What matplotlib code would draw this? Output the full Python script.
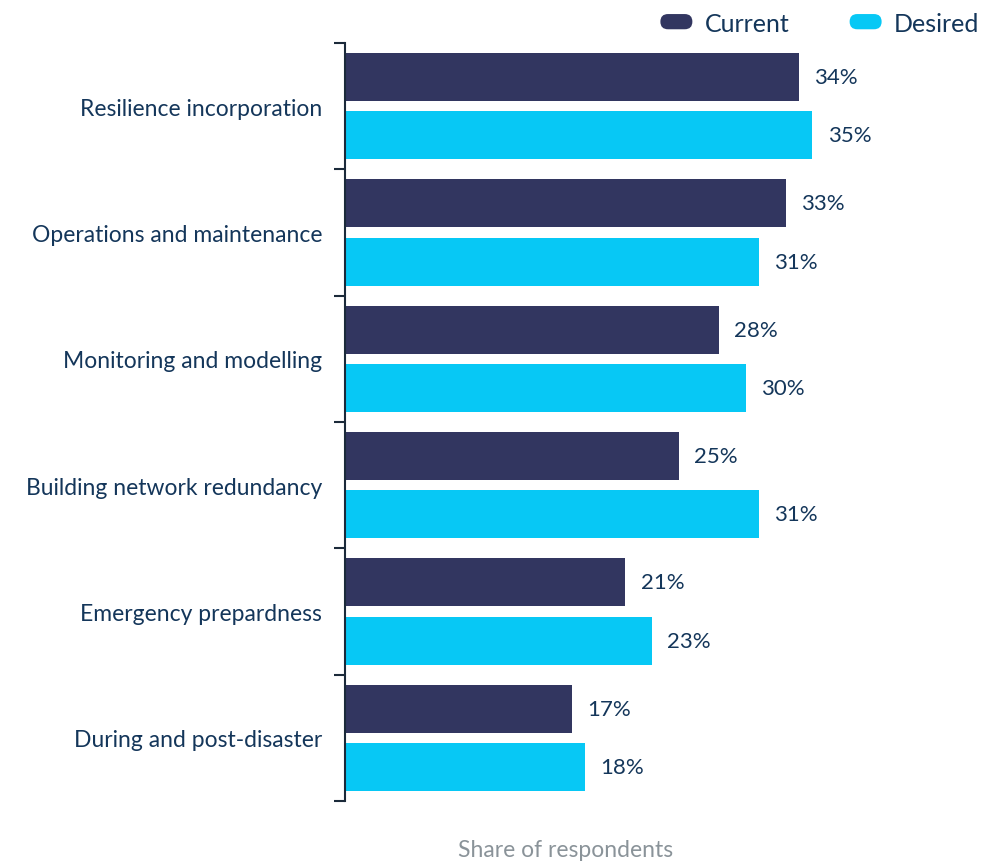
import matplotlib
matplotlib.use("Agg")
import matplotlib.pyplot as plt
from matplotlib.patches import Patch, FancyBboxPatch
from matplotlib.legend_handler import HandlerPatch

categories = ["Resilience incorporation", "Operations and maintenance",
              "Monitoring and modelling", "Building network redundancy",
              "Emergency prepardness", "During and post-disaster"]
current = [34, 33, 28, 25, 21, 17]
desired = [35, 31, 30, 31, 23, 18]
series_names = ["Current", "Desired"]
colors = ["#323660", "#07c8f5"]
text_color = "#14365a"

plt.rcParams['font.family'] = ['Lato', 'DejaVu Sans']

W, H = 982, 862
fig = plt.figure(figsize=(W / 100, H / 100), dpi=100)
left, right, top, bottom = 345, 879, 44, 802
ax = fig.add_axes([left / W, 1 - bottom / H, (right - left) / W, (bottom - top) / H])

ypos = list(range(len(categories)))
bh = 0.38
off = 0.23
ax.barh([y - off for y in ypos], current, height=bh, color=colors[0], label=series_names[0])
ax.barh([y + off for y in ypos], desired, height=bh, color=colors[1], label=series_names[1])

for y, v in zip(ypos, current):
    ax.text(v + 1.15, y - off, f"{v}%", va="center", ha="left", fontsize=16, color=text_color)
for y, v in zip(ypos, desired):
    ax.text(v + 1.15, y + off, f"{v}%", va="center", ha="left", fontsize=16, color=text_color)

ax.set_xlim(0, 40)
ax.set_ylim(len(categories) - 0.5, -0.5)

# major ticks at group boundaries, minor ticks for labels at centers
ax.set_yticks([i - 0.5 for i in range(len(categories) + 1)])
ax.set_yticklabels([])
ax.tick_params(axis="y", which="major", length=8, width=1.5, color="#1b2a3a", direction="out")
ax.set_yticks(ypos, minor=True)
ax.set_yticklabels(categories, minor=True, fontsize=16.5, color=text_color)
ax.tick_params(axis="y", which="minor", length=0, pad=16.5)

ax.set_xticks([])
for s in ["top", "right", "bottom"]:
    ax.spines[s].set_visible(False)
ax.spines["left"].set_color("#1b2a3a")
ax.spines["left"].set_linewidth(1.5)

ax.set_xlabel("Share of respondents", fontsize=16.5, color="#8a9399")
ax.xaxis.set_label_coords((566 - left) / (right - left), -0.05)


class PillHandler(HandlerPatch):
    def create_artists(self, legend, orig_handle, xdescent, ydescent, width, height, fontsize, trans):
        h = height
        p = FancyBboxPatch((-xdescent, -ydescent), width, h,
                           boxstyle=f"round,pad=0,rounding_size={h / 2}",
                           facecolor=orig_handle.get_facecolor(), edgecolor="none",
                           transform=trans)
        return [p]


handles = [Patch(facecolor=c) for c in colors]
leg = fig.legend(handles, series_names, loc="upper right", bbox_to_anchor=(1002 / W, 1 + 10 / H),
                 ncol=2, frameon=False, fontsize=18, handler_map={Patch: PillHandler()},
                 handlelength=1.28, handleheight=0.56, columnspacing=2.4, handletextpad=0.5)
for t in leg.get_texts():
    t.set_color(text_color)

fig.savefig("out.png", dpi=100)
